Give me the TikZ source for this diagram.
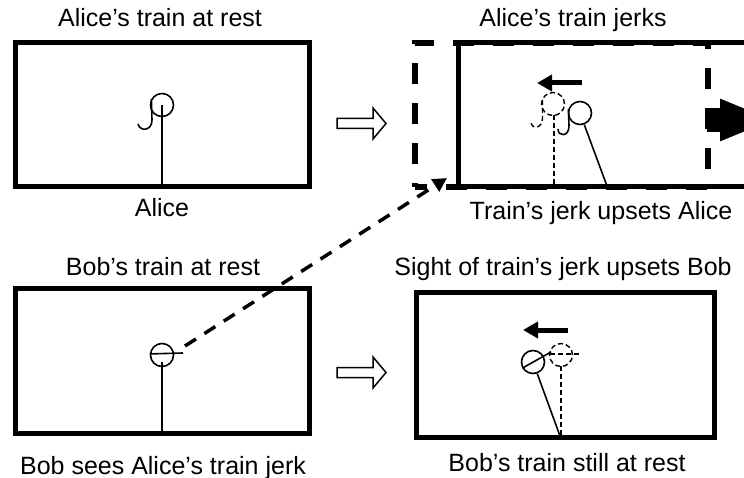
\documentclass[tikz,border=0pt]{standalone}
\usepackage{fontspec}
\setmainfont{Liberation Sans}
\usetikzlibrary{positioning,arrows.meta}

\begin{document}
\begin{tikzpicture}[x=1pt, y=-1pt]
	\useasboundingbox (0,0) rectangle (744,478);
	\clip (0,0) rectangle (744,478);
	\begin{scope}
		\tikzstyle{every node}=[font=\fontsize{25}{30}\selectfont, inner sep=0pt, anchor=base]
		\tikzstyle{train}=[draw, line width=5pt, minimum width=294pt, minimum height=144pt, anchor=center]
		\tikzstyle{ghost}=[minimum width=293pt, minimum height=144pt, anchor=center]
		\tikzstyle{head}=[draw, circle, line width=1.6pt, minimum size=23pt, anchor=center]
		\tikzstyle{fig}=[line width=1.6pt]
		\tikzstyle{was}=[line width=1.4pt, dash pattern=on 5pt off 3pt]
		\tikzstyle{motion}=[line width=5pt, -{Triangle[length=15pt, width=16pt]}]
		\tikzstyle{hollow}=[line width=1.5pt, line join=miter]

		% titles and captions
		\node (tA)  at (160,27)  {Alice’s train at rest};
		\node (cA)  at (162,217) {Alice};
		\node (tA2) at (573,27)  {Alice’s train jerks};
		\node (cA2) at (601,220) {Train’s jerk upsets Alice};
		\node (tB)  at (163,276) {Bob’s train at rest};
		\node (cB)  at (163,474) {Bob sees Alice’s train jerk};
		\node (tB2) at (563,276) {Sight of train’s jerk upsets Bob};
		\node (cB2) at (567,471) {Bob’s train still at rest};

		% trains
		\node[train] (restA) at (162,114.5) {};
		\node[ghost] (ghostA) at (561.5,115) {};
		\draw[line width=6pt, dash pattern=on 21pt off 19pt, dash phase=17pt]
			(ghostA.south west) -- (ghostA.north west) -- (ghostA.north east) -- (ghostA.south east) -- cycle;
		\node[train, minimum width=340pt] (jerkA) at (628,115) {};
		\node[train] (restB) at (162,361) {};
		\node[train, minimum width=298pt] (jerkB) at (565,365) {};

		% Alice before and after
		\node[head] (aliceA) at (162,105) {};
		\draw[fig] (aliceA.center) -- (aliceA.center |- restA.south);
		\draw[fig] (aliceA.150) -- (152,120) .. controls (152,131) and (140,132) .. (138,124);

		\node[head, was] (aliceW) at (553,104) {};
		\draw[was] (554,115) -- (554,187);
		\draw[was] (542.5,100) -- (542.5,118) .. controls (542.5,128) and (533,130) .. (531,123);

		\node[head] (aliceB) at (580,113) {};
		\draw[fig] (aliceB.-70) -- (607,186);
		\draw[fig] (aliceB.160) -- (569,126) .. controls (569,137) and (558,137) .. (558,129);
		\draw[motion] (582,83) -- (537,83);
		\draw[line width=24pt, -{Triangle[length=55pt, width=38pt]}] (707,120) -- (775,120);

		% Bob before and after
		\node[head] (bobA) at (162,355) {};
		\draw[fig] (162,362) -- (162,433);
		\draw[fig] (bobA.175) -- (183,353);
		\coordinate (eyeB) at (185,346);
		\coordinate (jerkC) at (447,178);
		\draw[line width=3.5pt, dash pattern=on 13pt off 10pt, -{Triangle[length=14pt, width=14pt]}] (eyeB) -- (jerkC);

		\node[head, was] (bobW) at (561,355) {};
		\draw[was] (550,354) -- (581,354);
		\draw[was] (561,366) -- (561,437);

		\node[head] (bobB) at (533,362) {};
		\draw[fig] (bobB.210) -- (551,352);
		\draw[fig] (bobB.-70) -- (560,436);
		\draw[motion] (568,330) -- (523,330);

		% then
		\draw[hollow] (337,118.5) -- (373,118.5) -- (373,108) -- (386,123.5) -- (373,139) -- (373,128.5) -- (337,128.5) -- cycle;
		\draw[hollow] (337,367.5) -- (373,367.5) -- (373,357) -- (386,372.5) -- (373,388) -- (373,377.5) -- (337,377.5) -- cycle;
	\end{scope}
\end{tikzpicture}
\end{document}
